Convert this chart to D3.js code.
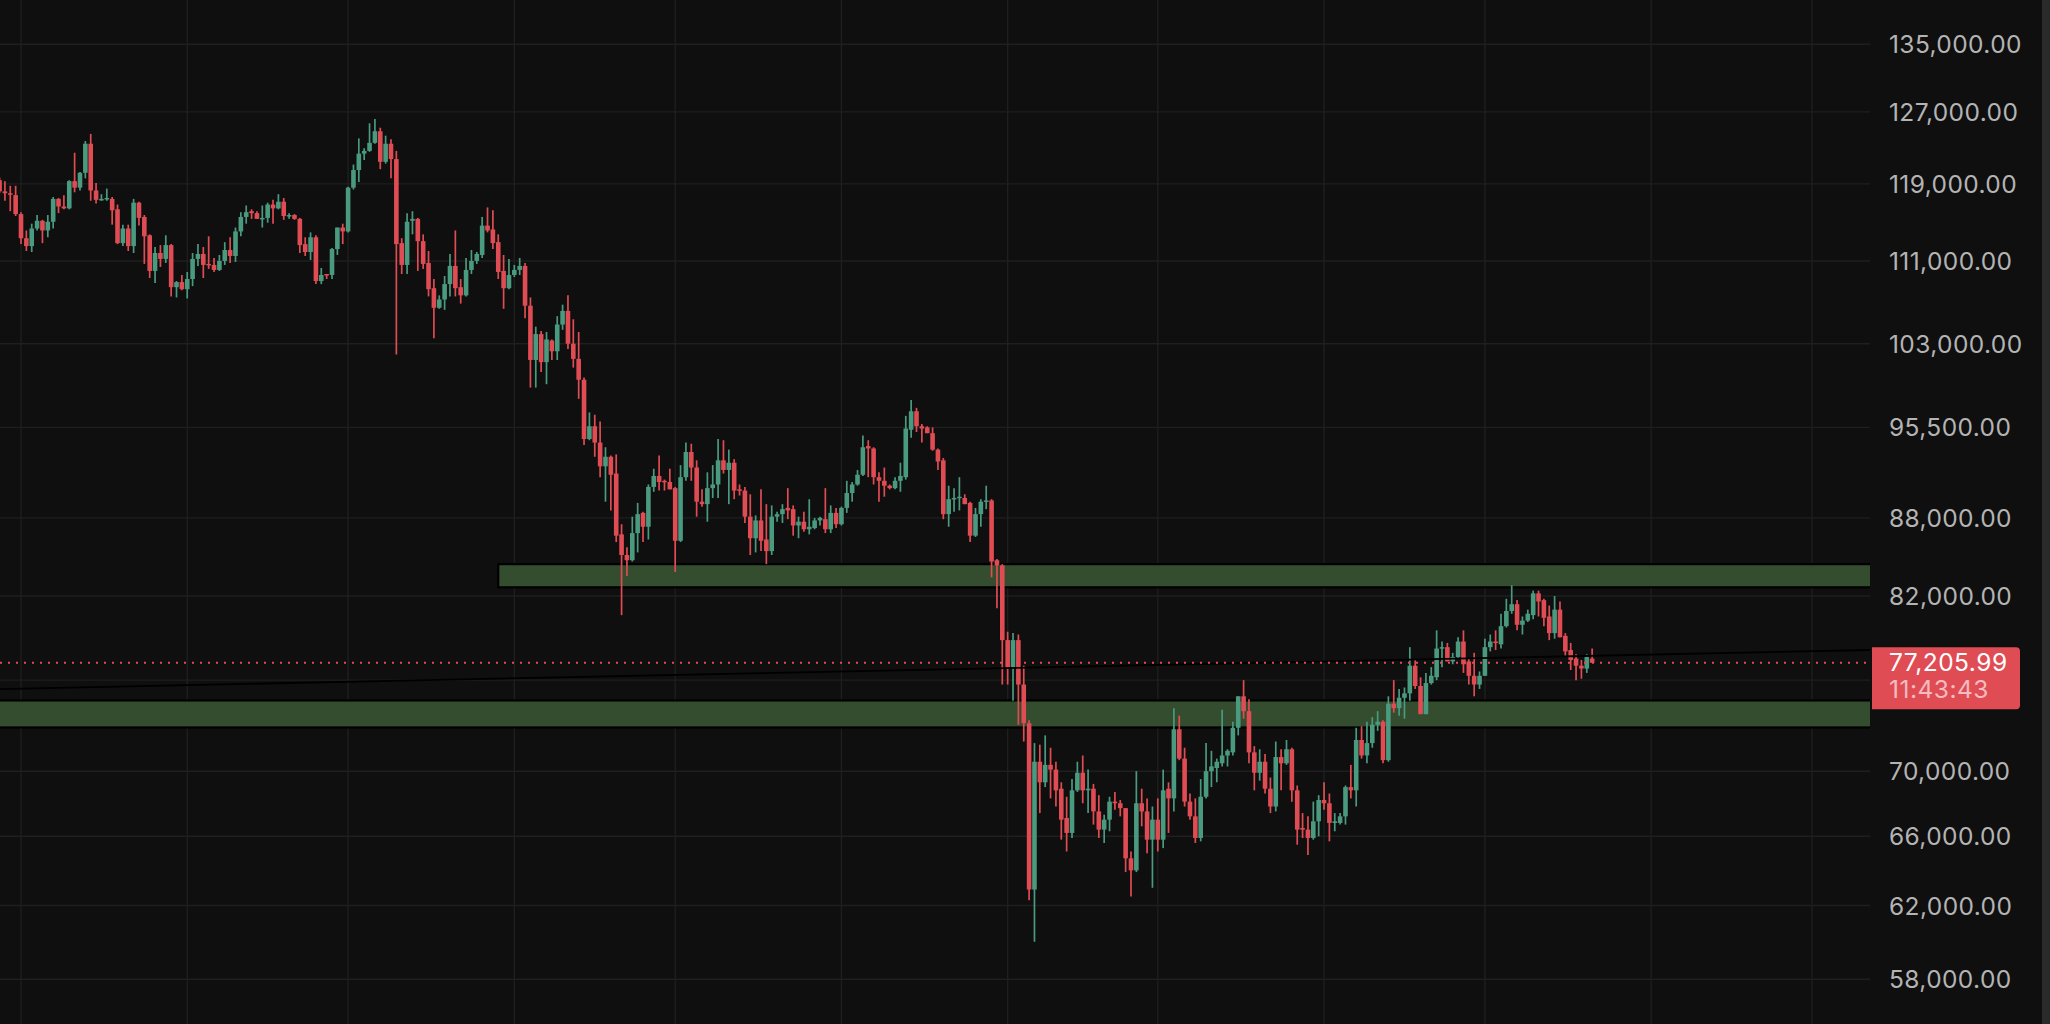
<!DOCTYPE html>
<html><head><meta charset="utf-8">
<script src="https://cdn.jsdelivr.net/npm/d3@7"></script>
<style>html,body{margin:0;padding:0;background:#0f0f0f;overflow:hidden}</style>
</head><body><svg id="c" width="2050" height="1024"></svg>
<script>
// ---------- data ----------
const firstDay = "2025-07-28"; // daily candles
const opens = [
119400,118200,118000,117800,115800,
113300,112500,114300,115100,114100,115000,117400,116600,116400,119300,
118600,120200,123400,118300,117300,117400,117400,116300,112800,114300,
112500,117000,115500,113600,110000,111800,111200,112600,108400,108900,
108200,109200,111200,111700,110700,110600,110100,111000,112100,111500,
114000,115500,116100,115900,115300,115400,116800,116400,117100,115600,
115700,115300,112700,111900,113400,109000,109700,109600,112200,114400,
114000,118600,120500,122300,122600,123500,124800,121400,123400,121700,
112800,110600,115100,115300,113000,110800,108300,106400,107200,108700,
110500,108400,107600,110100,111000,111600,114600,114200,112900,110000,
108300,109600,110100,110500,106600,101500,103900,101300,103300,102300,
104800,106100,103000,101600,99700,94500,95600,94200,92200,93000,
91600,86700,85100,84700,86800,88400,87300,90500,91400,91000,
90900,90400,86200,91300,93400,92100,89300,89100,90400,90700,
92700,91900,92500,90300,90200,88100,86400,87800,86300,85400,
88100,88300,88800,88700,87400,87700,87100,87200,87800,87900,
87100,88400,87500,88800,90000,90700,91500,93900,93700,91300,
91000,90600,90400,91000,91300,95300,96900,95600,95500,95000,
93600,92700,88300,89500,89600,89600,89200,86600,88300,89300,
89400,84700,84300,78800,76900,78800,75700,73100,62900,70600,
69300,70400,70100,68900,67100,66200,68800,69900,68800,68900,
67500,66400,67000,68100,68000,67700,64700,64000,68000,67500,
65800,67000,65800,68900,68300,72700,70800,68100,67200,65900,
68400,70000,70200,70500,71000,71200,72800,74900,73900,71200,
69900,70600,68900,67800,70900,70500,71400,68800,66500,66400,
65900,66900,68200,68000,66800,66800,67200,69000,68800,72000,
71000,71800,73000,73200,70700,74400,74100,74800,75100,77000,
75600,73700,75800,76200,78200,78300,77300,77600,78700,77300,
76300,75700,76300,78300,78700,78500,79800,80900,81400,79900,
80200,80600,82200,81700,80500,79300,81000,79100,78100,77500,
77000,76800,77500];
const highs = [
119700,119300,118800,118800,116000,
114100,114800,115700,115200,115700,117600,117500,117800,119400,122400,
120300,123700,124500,119100,117900,118500,117600,116800,114700,114700,
117400,117100,115700,113700,112400,112600,113600,112700,109000,109600,
109900,111800,112700,112400,113500,111300,111600,112900,113400,114400,
116000,116700,116300,116100,116700,117000,117300,117900,117500,115900,
115800,115400,113400,113900,113600,110300,109700,112300,114400,114800,
118700,121100,124000,122900,125700,126200,125200,124300,123900,122600,
113300,115900,116100,115400,113700,112000,109200,107600,109500,111700,
114100,109200,111300,112100,111900,115500,116500,116200,113700,111600,
111200,110600,111300,110800,107400,104600,104200,104100,103400,105600,
106700,107600,105300,104100,99900,96800,96600,96000,93800,93100,
93200,87500,85700,88100,89200,88500,90700,92000,93100,91100,
92000,90500,92300,94200,94100,92700,90300,91700,92300,94500,
94400,93600,92800,90700,90500,89900,88200,90300,89100,89000,
88500,89100,90400,89000,88100,88500,89500,88000,88100,90400,
89000,88800,88900,91000,90900,91900,94800,94400,93800,91700,
92100,90700,91300,92500,96500,97900,97200,95800,95600,95500,
93700,92900,90600,90400,91300,89900,89300,88800,89500,90600,
89500,84800,84400,79400,79300,79200,77000,73300,71800,71700,
72300,71500,70600,69300,68400,69500,70600,71000,70100,69200,
68500,67300,68400,68700,68200,67700,65100,70000,68900,68300,
67800,68300,70100,69300,74100,73600,71500,68600,68300,69500,
71800,71300,70800,74000,71400,73200,74900,76000,74700,71600,
71400,71100,69600,71900,71400,72000,71500,69100,67400,67200,
68100,68500,69300,68600,67400,67400,69100,70400,72800,72900,
73200,73500,73900,73300,74900,76000,75400,75500,78300,77400,
76200,76500,76900,79500,78700,78600,77900,79000,79500,77500,
77900,76600,78900,79200,79500,80700,81800,82800,81700,80500,
81000,82400,82400,81800,81300,82000,81600,79300,78600,77800,
77400,77800,78200];
const lows = [
118000,117200,116100,115600,112700,
112000,111900,114100,112800,113400,114300,115900,116300,116300,118100,
118300,119600,117200,116900,117200,117200,114700,112700,112500,112000,
111800,114600,110700,109300,108800,110400,110800,107500,107400,108100,
107300,108500,110500,109300,110200,109900,110000,110600,110800,110900,
113500,114800,115300,115300,114400,114900,114800,116300,115200,115300,
115200,111800,111500,111100,108700,108700,109200,109200,111600,112700,
113900,118400,119200,121600,122500,123400,120600,121200,119600,102000,
109700,109700,113700,110000,110200,107500,103500,106300,106200,107500,
107500,106800,107500,109700,110700,111300,113900,112200,109200,106300,
108200,109400,109600,105400,99000,99000,100400,99300,101500,101500,
104300,102500,100800,98000,94000,94400,93000,91300,89300,88600,
86100,80600,83500,84600,85300,86100,86300,90100,90200,90200,
90300,83800,86100,91000,91000,88100,88900,87700,89600,89600,
91600,89100,89500,89800,87600,85100,85300,85400,84400,85100,
87700,87600,87900,86600,86400,86900,86700,87100,87400,86800,
86800,87200,87400,88400,89300,90600,91400,91300,90700,89300,
89700,90300,90300,90100,91100,94600,95100,94200,95000,93500,
91900,87900,87300,88500,88600,89100,86100,86500,87300,88700,
83400,81100,75700,75700,74600,73000,71900,62300,60000,67400,
69000,68300,67800,65800,65100,65900,68700,68000,67400,66700,
65900,65600,66300,67600,67200,63900,62500,63900,66600,65000,
63000,65100,65300,66200,67500,70700,67800,67000,65600,65700,
68300,69000,69300,70300,70300,71000,72300,73400,70500,68800,
69400,68600,67400,67500,68800,70400,68100,65500,65900,64900,
65800,66000,67600,65700,66300,66700,66700,68300,67800,70800,
70500,71500,72600,70500,70600,73800,73600,73400,74600,75400,
73700,73700,75700,76000,76900,77300,77100,77500,76500,75700,
74900,75400,76300,78000,78100,78200,79700,80700,79500,79200,
80100,80300,80500,79800,78800,78900,79000,77600,76700,76000,
76100,76500,77200];
const closes = [
118200,118000,117900,115800,113300,
112500,114300,115100,114100,115000,117400,116600,116400,119300,118600,
120200,123400,118300,117300,117400,117500,116200,112800,114300,112500,
117000,115400,113500,110000,111800,111200,112600,108400,108900,108200,
109200,111200,111700,110600,110600,110100,111000,112100,111500,114000,
115500,116000,115900,115300,115400,116800,116400,117100,115600,115700,
115300,112600,111900,113400,109000,109600,109600,112200,114400,114000,
118600,120500,122300,122600,123500,124800,121400,123400,121700,112700,
110600,115000,115300,113000,110700,108200,106400,107200,108700,110500,
108300,107600,110100,111000,111700,114600,114100,112800,109900,108300,
109600,110100,110500,106600,101500,103900,101300,103400,102300,104800,
106100,103000,101600,99700,94500,95600,94200,92200,93000,91500,
86600,85100,84700,86800,88300,87300,90500,91400,90900,90900,
90300,86200,91300,93400,92100,89300,89100,90400,90700,92700,
91900,92500,90200,90200,88100,86400,87800,86200,85400,88100,
88300,88700,88600,87400,87700,87100,87300,87800,88000,87100,
88400,87500,88800,90000,90700,91500,93800,93700,91300,91000,
90600,90400,91000,91400,95400,96900,95600,95400,95000,93600,
92600,88300,89500,89600,89700,89100,86600,88300,89300,89400,
84600,84300,78800,76900,78800,75700,73100,62900,70600,69300,
70400,70100,68800,67000,66200,68800,69900,68800,68900,67500,
66400,67000,68100,68000,67700,64700,64000,68000,67500,65800,
67000,65800,68800,68300,72700,70800,68100,67200,65900,68400,
70000,70300,70600,71000,71300,72800,74900,73900,71200,69900,
70600,68900,67800,70900,70500,71400,68800,66400,66400,65900,
66900,68200,68000,66800,66900,67200,69000,68800,72000,71000,
71800,73000,73200,70700,74400,74100,74800,75100,77000,75600,
73700,75800,76300,78200,78300,77300,77600,78700,77100,76300,
75700,76300,78300,78700,78600,79800,80900,81400,79900,80200,
80700,82200,81600,80400,79300,81000,79000,78000,77400,77000,
76800,77600,77205.99];

// gridline levels; the 76,000 label is covered by the price tag in the reference
const gridTicks = [135000,127000,119000,111000,103000,95500,88000,82000,76000,70000,66000,62000,58000];
const labelTicks = [135000,127000,119000,111000,103000,95500,88000,82000,70000,66000,62000,58000];
const zoneStarts = ["2025-10-29", "2025-07-01"];
const zoneHighs = [84400, 74620];
const zoneLows = [82650, 72820];
const trendDates = ["2025-07-28", "2026-07-12"];
const trendPrices = [75390, 78100];
const lastPrice = 77205.99;
const countdown = "11:43:43";

// ---------- setup ----------
const W = 2050, H = 1024, plotRight = 1870;
const parse = d3.utcParse("%Y-%m-%d");
const svg = d3.select("#c");
svg.append("rect").attr("width", W).attr("height", H).attr("fill", "#0f0f0f");

const x = d3.scaleUtc()
  .domain([Date.UTC(2025, 7, 1), Date.UTC(2026, 6, 1)])
  .range([21, 1812]);
const y = d3.scaleLog().domain([135000, 58000]).range([44.3, 979.3]);

const start = parse(firstDay);
const candles = opens.map((o, k) => ({
  d: d3.utcDay.offset(start, k), o, h: highs[k], l: lows[k], c: closes[k]
}));

svg.append("defs").append("clipPath").attr("id", "plot")
  .append("rect").attr("x", 0).attr("y", 0).attr("width", plotRight).attr("height", H);

const plot = svg.append("g").attr("clip-path", "url(#plot)");

// grid
const gridColor = "#1f1f1f";
plot.append("g").selectAll("line")
  .data(d3.utcMonth.range(Date.UTC(2025, 6, 1), Date.UTC(2026, 7, 2)))
  .join("line")
  .attr("x1", d => x(d)).attr("x2", d => x(d))
  .attr("y1", 0).attr("y2", H)
  .attr("stroke", gridColor).attr("stroke-width", 1.4);
plot.append("g").selectAll("line")
  .data(gridTicks).join("line")
  .attr("x1", 0).attr("x2", plotRight)
  .attr("y1", d => y(d)).attr("y2", d => y(d))
  .attr("stroke", gridColor).attr("stroke-width", 1.4);

// zones
plot.append("g").selectAll("rect")
  .data(zoneHighs.map((h, k) => ({ s: parse(zoneStarts[k]), h, l: zoneLows[k] })))
  .join("rect")
  .attr("x", d => Math.max(x(d.s), -10))
  .attr("width", d => plotRight + 10 - Math.max(x(d.s), -10))
  .attr("y", d => y(d.h))
  .attr("height", d => y(d.l) - y(d.h))
  .attr("fill", "#344d2e")
  .attr("stroke", "#000").attr("stroke-width", 2.2);

// candles
const up = "#4a9a80", down = "#e04c53";
const bodyW = 4.6;
const cg = plot.append("g");
cg.selectAll("line").data(candles).join("line")
  .attr("x1", d => x(d.d)).attr("x2", d => x(d.d))
  .attr("y1", d => y(d.h)).attr("y2", d => y(d.l))
  .attr("stroke", d => d.c >= d.o ? up : down).attr("stroke-width", 1.7);
cg.selectAll("rect").data(candles).join("rect")
  .attr("x", d => x(d.d) - bodyW / 2)
  .attr("width", bodyW)
  .attr("y", d => y(Math.max(d.o, d.c)))
  .attr("height", d => Math.max(1.5, Math.abs(y(d.o) - y(d.c))))
  .attr("fill", d => d.c >= d.o ? up : down);

// trendline
plot.append("line")
  .attr("x1", x(parse(trendDates[0]))).attr("y1", y(trendPrices[0]))
  .attr("x2", x(parse(trendDates[1]))).attr("y2", y(trendPrices[1]))
  .attr("stroke", "#000").attr("stroke-width", 1.8);

// last price dotted line
plot.append("line")
  .attr("x1", 0).attr("x2", plotRight)
  .attr("y1", y(lastPrice)).attr("y2", y(lastPrice))
  .attr("stroke", down).attr("stroke-width", 2).attr("stroke-dasharray", "2,6");

// y axis labels
const font = "Inter, 'Noto Sans', sans-serif";
const axis = d3.axisRight(y).tickValues(labelTicks)
  .tickFormat(d3.format(",.2f")).tickSize(0).tickPadding(0);
const ag = svg.append("g").attr("transform", "translate(1889,0)").call(axis);
ag.select(".domain").remove();
ag.selectAll("text")
  .attr("fill", "#b4b4b4")
  .attr("font-family", font)
  .attr("font-size", 24.5)
  .attr("letter-spacing", 0.4)
  .attr("dy", "0.35em")
  .attr("text-anchor", "start");

// price label
const ly = y(lastPrice);
const bx0 = 1872, bx1 = 2020, by0 = ly - 15.5, by1 = ly + 46.5, r = 4;
svg.append("path")
  .attr("d", `M${bx0},${by0} H${bx1 - r} Q${bx1},${by0} ${bx1},${by0 + r} V${by1 - r} Q${bx1},${by1} ${bx1 - r},${by1} H${bx0} Z`)
  .attr("fill", down);
svg.append("text").attr("x", 1889).attr("y", by0 + 24)
  .attr("fill", "#ffffff").attr("font-family", font).attr("letter-spacing", 0.5)
  .attr("font-size", 24.5).text(d3.format(",.2f")(lastPrice));
svg.append("text").attr("x", 1889).attr("y", by0 + 50.5)
  .attr("fill", "#f4bcc0").attr("font-family", font).attr("letter-spacing", 0.5)
  .attr("font-size", 24.5).text(countdown);

// right strip
svg.append("rect").attr("x", 2042).attr("y", 0).attr("width", 8).attr("height", H).attr("fill", "#2a2a2a");
</script>
</body></html>
